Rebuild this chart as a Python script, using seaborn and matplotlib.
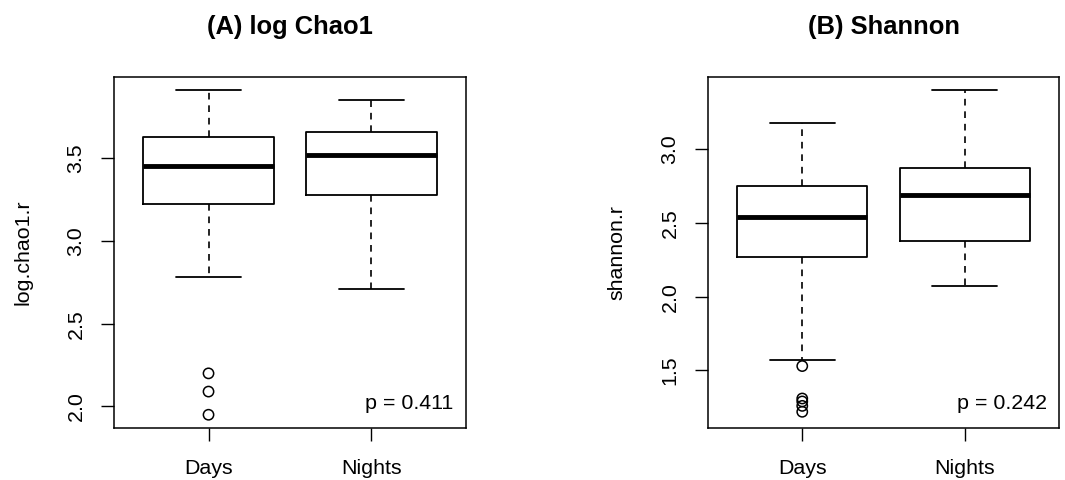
import matplotlib
matplotlib.use("Agg")
import matplotlib.pyplot as plt
import seaborn as sns
import pandas as pd

# группы
groups = ["Days", "Nights"]

# (A) log Chao1 — сводные статистики боксплота
chao_whislo = [2.78, 2.71]
chao_q1 = [3.22, 3.28]
chao_med = [3.45, 3.52]
chao_q3 = [3.63, 3.66]
chao_whishi = [3.91, 3.85]
chao_out_days = [2.20, 2.09, 1.95]
chao_out_nights = []

# (B) Shannon
shan_whislo = [1.57, 2.07]
shan_q1 = [2.27, 2.38]
shan_med = [2.54, 2.69]
shan_q3 = [2.75, 2.87]
shan_whishi = [3.18, 3.40]
shan_out_days = [1.53, 1.31, 1.29, 1.26, 1.22]
shan_out_nights = []

sns.set_style("ticks")
plt.rcParams["font.family"] = ["Liberation Sans", "DejaVu Sans"]
plt.rcParams["text.color"] = "black"
plt.rcParams["axes.labelcolor"] = "black"

fig = plt.figure(figsize=(10.65, 4.8), dpi=100)
W, H = 1065, 480
ax1 = fig.add_axes([114 / W, (H - 428) / H, 352 / W, 351 / H])
ax2 = fig.add_axes([708 / W, (H - 428) / H, 351 / W, 351 / H])


def draw_panel(ax, whislo, q1, med, q3, whishi, out_days, out_nights,
               title, ylabel, yticks, ylim, ptext):
    stats = []
    for i in range(len(groups)):
        stats.append(dict(whislo=whislo[i], q1=q1[i], med=med[i],
                          q3=q3[i], whishi=whishi[i], fliers=[]))
    ax.bxp(stats, positions=[1, 2], widths=0.8, showfliers=False,
           boxprops=dict(color="black", linewidth=1.3),
           medianprops=dict(color="black", linewidth=3.5, solid_capstyle="butt"),
           whiskerprops=dict(color="black", linewidth=1.2, linestyle=(0, (4, 3.5))),
           capprops=dict(color="black", linewidth=1.3),
           capwidths=0.4)

    # выбросы
    out = pd.DataFrame({
        "pos": [1] * len(out_days) + [2] * len(out_nights),
        "val": list(out_days) + list(out_nights),
    })
    sns.scatterplot(data=out, x="pos", y="val", ax=ax, s=55,
                    facecolor="none", edgecolor="black", linewidth=1.1,
                    legend=False, zorder=3)

    ax.set_xlim(0.42, 2.58)
    ax.set_ylim(*ylim)
    ax.set_xticks([1, 2])
    ax.set_xticklabels(groups)
    ax.set_yticks(yticks)
    ax.set_yticklabels([f"{t:.1f}" for t in yticks], rotation=90, va="center")
    ax.tick_params(axis="both", direction="out", length=9.5, width=1,
                   colors="black", labelsize=15.4)
    ax.tick_params(axis="y", pad=11)
    ax.tick_params(axis="x", pad=12.5)
    ax.set_xlabel("")
    ax.set_ylabel(ylabel, fontsize=15.4, va="center")
    ax.yaxis.set_label_coords(-91 / 352, 0.5)
    for sp in ax.spines.values():
        sp.set_visible(True)
        sp.set_color("black")
        sp.set_linewidth(1.1)
    ax.set_title(title, fontsize=18.4, fontweight="bold", pad=31)
    ax.text(0.965, 0.071, ptext, transform=ax.transAxes, ha="right",
            va="center", fontsize=15.4)


draw_panel(ax1, chao_whislo, chao_q1, chao_med, chao_q3, chao_whishi,
           chao_out_days, chao_out_nights, "(A) log Chao1", "log.chao1.r",
           [2.0, 2.5, 3.0, 3.5], (1.87, 3.99), "p = 0.411")
draw_panel(ax2, shan_whislo, shan_q1, shan_med, shan_q3, shan_whishi,
           shan_out_days, shan_out_nights, "(B) Shannon", "shannon.r",
           [1.5, 2.0, 2.5, 3.0], (1.11, 3.49), "p = 0.242")

fig.savefig("out.png", dpi=100, facecolor="white")
